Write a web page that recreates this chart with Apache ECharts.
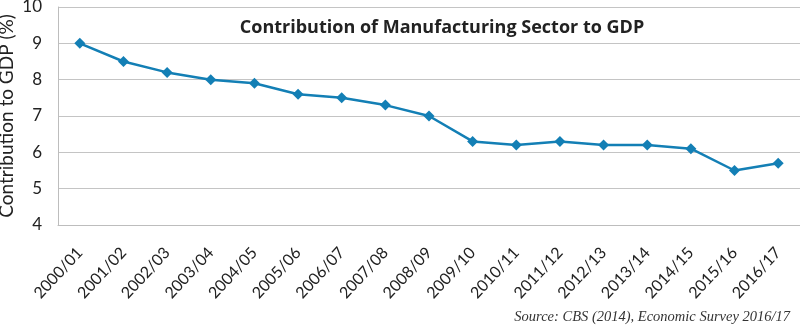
<!DOCTYPE html>
<html>
<head>
<meta charset="utf-8">
<script src="https://cdn.jsdelivr.net/npm/echarts@6/dist/echarts.min.js"></script>
<style>
  html, body { margin: 0; padding: 0; background: #fff; }
  #chart { width: 800px; height: 332px; }
</style>
</head>
<body>
<div id="chart"></div>
<script>
// Fiscal years (Nepal)
const years = [
  '2000/01', '2001/02', '2002/03', '2003/04', '2004/05', '2005/06',
  '2006/07', '2007/08', '2008/09', '2009/10', '2010/11', '2011/12',
  '2012/13', '2013/14', '2014/15', '2015/16', '2016/17'
];
// Manufacturing share of GDP, percent
const manufacturingShare = [
  9.0, 8.5, 8.2, 8.0, 7.9, 7.6, 7.5, 7.3, 7.0,
  6.3, 6.2, 6.3, 6.2, 6.2, 6.1, 5.5, 5.7
];
const yTicks = { min: 4, max: 10, step: 1 };

const chart = echarts.init(document.getElementById('chart'), null, { renderer: 'canvas' });
chart.setOption({
  animation: false,
  backgroundColor: '#ffffff',
  title: {
    text: 'Contribution of Manufacturing Sector to GDP',
    left: 437,
    top: 14,
    textAlign: 'center',
    textStyle: {
      fontFamily: 'Open Sans',
      fontWeight: 'bold',
      fontSize: 18,
      color: '#222222'
    }
  },
  graphic: [{
    type: 'text',
    right: 10,
    top: 310,
    style: {
      text: 'Source: CBS (2014), Economic Survey 2016/17',
      font: 'italic 14.5px "Liberation Serif"',
      fill: '#333333'
    }
  }],
  grid: {
    left: 58, right: 0, top: 7, bottom: 107,
    containLabel: false,
    outerBoundsMode: 'none'
  },
  xAxis: {
    type: 'category',
    data: years,
    boundaryGap: true,
    axisLine: { show: true, lineStyle: { color: '#bdbdbd', width: 1 } },
    axisTick: { show: false },
    axisLabel: {
      rotate: 47,
      interval: 0,
      margin: 25,
      fontFamily: 'Lato',
      fontSize: 16,
      color: '#222222'
    }
  },
  yAxis: {
    type: 'value',
    min: yTicks.min,
    max: yTicks.max,
    interval: yTicks.step,
    name: 'Contribution to GDP (%)',
    nameLocation: 'middle',
    nameGap: 42,
    nameMoveOverlap: false,
    nameTextStyle: { fontFamily: 'Lato', fontSize: 19, color: '#222222' },
    axisLine: { show: true, lineStyle: { color: '#bdbdbd', width: 1 } },
    axisTick: { show: false },
    splitLine: { show: true, lineStyle: { color: '#c4c4c4', width: 1 } },
    axisLabel: {
      margin: 16,
      fontFamily: 'Lato',
      fontSize: 17,
      color: '#222222'
    }
  },
  series: [{
    type: 'line',
    data: manufacturingShare,
    symbol: 'diamond',
    symbolSize: 11,
    lineStyle: { color: '#137fb5', width: 2.5 },
    itemStyle: { color: '#137fb5' }
  }]
});
</script>
</body>
</html>
